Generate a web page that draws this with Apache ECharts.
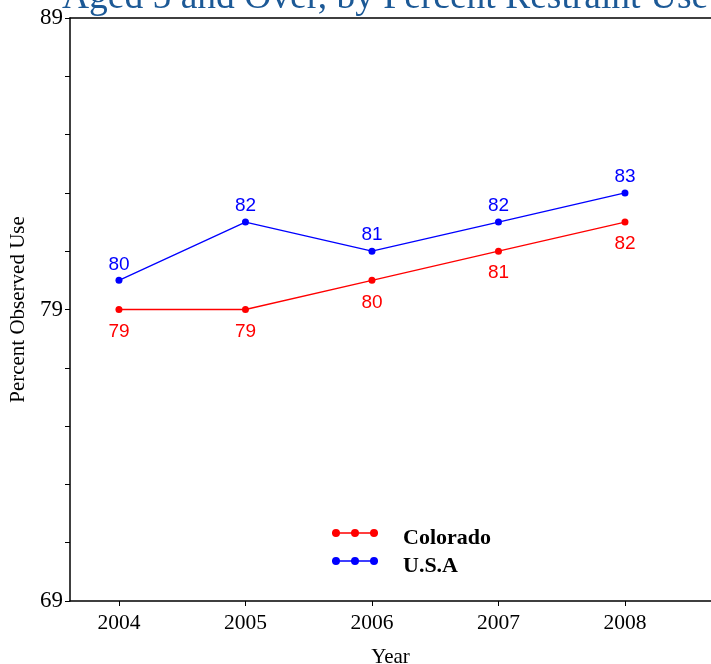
<!DOCTYPE html>
<html>
<head>
<meta charset="utf-8">
<script src="https://cdn.jsdelivr.net/npm/echarts@6/dist/echarts.min.js"></script>
<style>
  html, body { margin: 0; padding: 0; background: #fff; }
  #chart { width: 711px; height: 664px; }
</style>
</head>
<body>
<div id="chart"></div>
<script>
// data
const years = [2004, 2005, 2006, 2007, 2008];
const colorado = [79, 79, 80, 81, 82];
const usa = [80, 82, 81, 82, 83];
const yTicks = [69, 71, 73, 75, 77, 79, 81, 83, 85, 87, 89];
const yLabels = [69, 79, 89];

const serif = '"Liberation Serif", "DejaVu Serif", serif';
const sans = '"Liberation Sans", Arial, sans-serif';

// line with three dots, like the legend keys in the original (all clockwise so nothing cancels).
// the last tiny subpath only stretches the bounds so the key sits a bit above the text centre
const legendIcon = 'path://M0,3.3 L46,3.3 L46,4.7 L0,4.7 Z ' +
  'M0,4 a4,4 0 1,1 8,0 a4,4 0 1,1 -8,0 Z ' +
  'M19,4 a4,4 0 1,1 8,0 a4,4 0 1,1 -8,0 Z ' +
  'M38,4 a4,4 0 1,1 8,0 a4,4 0 1,1 -8,0 Z ' +
  'M23,18 L23.01,18 L23.01,17.99 Z';

function pairs(vals) {
  return years.map((y, i) => [y, vals[i]]);
}

let myChart = echarts.init(document.getElementById('chart'));
myChart.setOption({
  animation: false,
  title: {
    text: 'Aged 5 and Over, by Percent Restraint Use',
    left: 62,
    top: -21,
    padding: 0,
    textStyle: {
      color: '#1c5996',
      fontFamily: serif,
      fontWeight: 'normal',
      fontSize: 37.5
    }
  },
  grid: {
    left: 70,
    right: 0,
    top: 18,
    bottom: 63,
    outerBoundsMode: 'none'
  },
  legend: {
    orient: 'vertical',
    left: 327,
    top: 522,
    itemWidth: 46,
    itemHeight: 18,
    itemGap: 6,
    icon: legendIcon,
    textStyle: {
      color: '#000',
      fontFamily: serif,
      fontWeight: 'bold',
      fontSize: 22,
      padding: [0, 0, 0, 20]
    },
    data: ['Colorado', 'U.S.A']
  },
  xAxis: [
    {
      type: 'value',
      min: 2003.613,
      max: 2008.68,
      name: 'Year',
      nameLocation: 'middle',
      nameGap: 46,
      nameTextStyle: { color: '#000', fontFamily: serif, fontSize: 21 },
      splitLine: { show: false },
      axisLine: { lineStyle: { color: '#000', width: 1.5 } },
      axisTick: { show: true, length: 5, customValues: years, lineStyle: { color: '#000' } },
      axisLabel: {
        customValues: years,
        formatter: v => String(v),
        color: '#000',
        fontFamily: serif,
        fontSize: 21.5,
        margin: 11
      }
    },
    {
      // plain frame line along the top
      type: 'value',
      position: 'top',
      min: 0,
      max: 1,
      splitLine: { show: false },
      axisLine: { show: true, onZero: false, lineStyle: { color: '#000', width: 1.5 } },
      axisTick: { show: false },
      axisLabel: { show: false }
    }
  ],
  yAxis: {
    type: 'value',
    min: 69,
    max: 89,
    name: 'Percent Observed Use',
    nameLocation: 'middle',
    nameGap: 37,
    nameTextStyle: { color: '#000', fontFamily: serif, fontSize: 21 },
    splitLine: { show: false },
    axisLine: { show: true, lineStyle: { color: '#000', width: 1.5 } },
    axisTick: { show: true, length: 5, customValues: yTicks, lineStyle: { color: '#000' } },
    axisLabel: {
      customValues: yLabels,
      color: '#000',
      fontFamily: serif,
      fontSize: 23,
      margin: 7
    }
  },
  series: [
    {
      name: 'Colorado',
      type: 'line',
      data: pairs(colorado),
      color: '#ff0000',
      symbol: 'circle',
      symbolSize: 7,
      lineStyle: { width: 1.3 },
      label: {
        show: true,
        position: 'bottom',
        distance: 9,
        color: '#ff0000',
        fontFamily: sans,
        fontSize: 19,
        formatter: p => p.value[1]
      }
    },
    {
      name: 'U.S.A',
      type: 'line',
      data: pairs(usa),
      color: '#0000ff',
      symbol: 'circle',
      symbolSize: 7,
      lineStyle: { width: 1.3 },
      label: {
        show: true,
        position: 'top',
        distance: 3,
        color: '#0000ff',
        fontFamily: sans,
        fontSize: 19,
        formatter: p => p.value[1]
      }
    }
  ]
});
</script>
</body>
</html>
